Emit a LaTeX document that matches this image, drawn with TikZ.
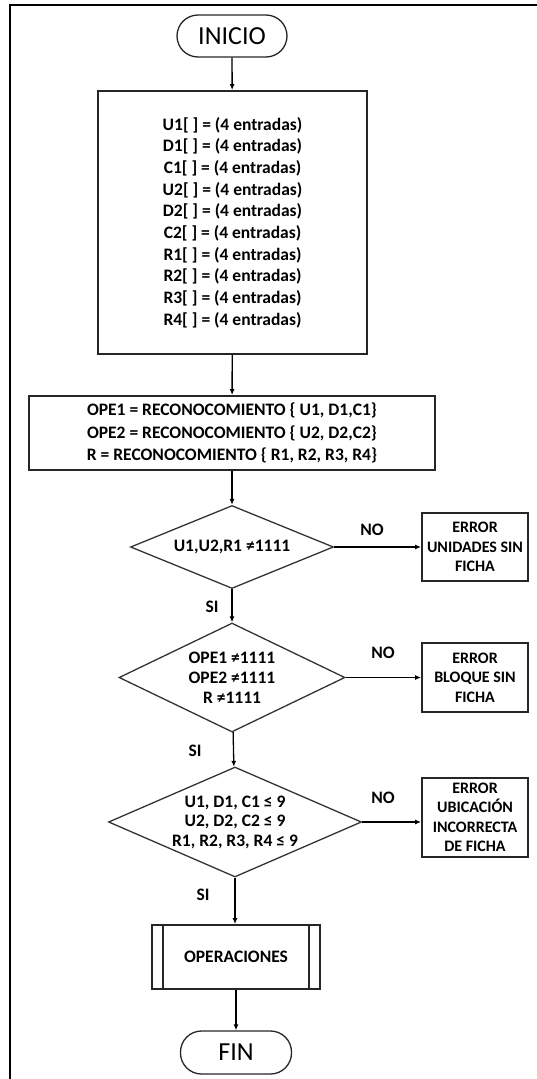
\documentclass[tikz,border=0pt]{standalone}
\usepackage{fontspec}
\setmainfont{Carlito}
\usetikzlibrary{shapes.geometric,arrows.meta}
\begin{document}
\begin{tikzpicture}[x=1pt,y=-1pt,
  txt/.style={font=\bfseries\fontsize{17.5}{21.7}\selectfont, text=black},
  term/.style={draw=black!85, line width=1.3pt, rounded corners=21pt,
    minimum width=110pt, minimum height=42pt, inner sep=0pt,
    font=\fontsize{26}{30}\selectfont},
  proc/.style={draw=black!85, line width=1.8pt, inner sep=0pt, align=center, txt},
  dec/.style={draw=black!80, line width=1.3pt, diamond, inner sep=0pt},
  err/.style={proc, align=center, font=\bfseries\fontsize{16}{19.5}\selectfont},
  flow/.style={draw=black, line width=1.3pt, -{Latex[length=6pt,width=5pt]}},
  tag/.style={txt, inner sep=0pt}
]
\useasboundingbox (0,0) rectangle (537,1079);
% page frame
\draw[line width=2.4pt] (10,1079) -- (10,5) -- (537,5);

% main column
\node[term] (inicio) at (232,36) {INICIO};
\node[proc, minimum width=269pt, minimum height=263pt] (vars) at (232.5,222.5)
  {U1[ ] = (4 entradas)\\ D1[ ] = (4 entradas)\\ C1[ ] = (4 entradas)\\
   U2[ ] = (4 entradas)\\ D2[ ] = (4 entradas)\\ C2[ ] = (4 entradas)\\
   R1[ ] = (4 entradas)\\ R2[ ] = (4 entradas)\\ R3[ ] = (4 entradas)\\
   R4[ ] = (4 entradas)};
\node[proc, minimum width=406pt, minimum height=74pt,
  font=\bfseries\fontsize{17.5}{22.5}\selectfont] (ope) at (232,433)
  {OPE1 = RECONOCOMIENTO \{ U1, D1,C1\}\\
   OPE2 = RECONOCOMIENTO \{ U2, D2,C2\}\\
   R = RECONOCOMIENTO \{ R1, R2, R3, R4\}};

\node[dec, minimum width=203pt, minimum height=83pt] (d1) at (232,547) {};
\node[txt, align=center] (t1) at (d1) {U1,U2,R1 ≠1111};
\node[dec, minimum width=226pt, minimum height=109pt] (d2) at (232,677.5) {};
\node[txt, align=center, font=\bfseries\fontsize{17.5}{20}\selectfont] (t2) at (d2)
  {OPE1 ≠1111\\ OPE2 ≠1111\\ R ≠1111};
\node[dec, minimum width=253pt, minimum height=110pt] (d3) at (235,822) {};
\node[txt, align=center, font=\bfseries\fontsize{17.5}{19.5}\selectfont] (t3) at (d3)
  {U1, D1, C1 ≤ 9\\ U2, D2, C2 ≤ 9\\ R1, R2, R3, R4 ≤ 9};

\node[proc, minimum width=168pt, minimum height=64pt] (ops) at (236,957) {OPERACIONES};
\draw[line width=1.8pt, black!85] ([xshift=12pt]ops.north west) -- ([xshift=12pt]ops.south west)
  ([xshift=-12pt]ops.north east) -- ([xshift=-12pt]ops.south east);
\node[term, minimum width=111pt, minimum height=43pt] (fin) at (236,1052.5) {FIN};

% error boxes
\node[err, minimum width=106pt, minimum height=68pt] (e1) at (475,547)
  {ERROR\\ UNIDADES SIN\\ FICHA};
\node[err, minimum width=106pt, minimum height=69pt] (e2) at (475,677.5)
  {ERROR\\ BLOQUE SIN\\ FICHA};
\node[err, minimum width=106pt, minimum height=79pt] (e3) at (475,817.5)
  {ERROR\\ UBICACIÓN\\ INCORRECTA\\ DE FICHA};

% branch labels
\node[tag] (no1) at (372,530) {NO};
\node[tag] (no2) at (383,653) {NO};
\node[tag] (no3) at (383,798) {NO};
\node[tag] (si1) at (212,607) {SI};
\node[tag] (si2) at (195,751) {SI};
\node[tag] (si3) at (203,895) {SI};

% connectors
\draw[flow] (inicio) -- (vars);
\draw[flow] (vars) -- (ope);
\draw[flow] (ope) -- (d1);
\draw[flow] (d1) -- (d2);
\draw[flow] (d2) -- (d3);
\draw[flow] (d3.south) -- (d3.south |- ops.north);
\draw[flow] (ops) -- (fin);
\draw[flow] (d1.east) -- (d1.east -| e1.west);
\draw[flow] (d2.east) -- (d2.east -| e2.west);
\draw[flow] (d3.east) -- (d3.east -| e3.west);
\end{tikzpicture}
\end{document}
